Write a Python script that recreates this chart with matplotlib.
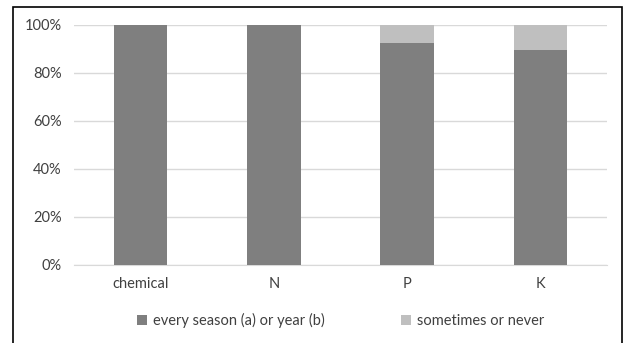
import matplotlib
matplotlib.use('Agg')
import matplotlib.pyplot as plt
from matplotlib.patches import Rectangle
from matplotlib.ticker import PercentFormatter
import numpy as np

plt.rcParams['font.family'] = ['Lato', 'DejaVu Sans']

categories = ['chemical', 'N', 'P', 'K']
regular = [100.0, 100.0, 92.3, 89.7]       # every season (a) or year (b)
sometimes = [0.0, 0.0, 7.7, 10.3]          # sometimes or never
labels = ['every season (a) or year (b)', 'sometimes or never']

dark = '#7f7f7f'
light = '#bfbfbf'
txt = '#404040'

fig = plt.figure(figsize=(6.24, 3.43), dpi=100)
ax = fig.add_axes([74/624, 1 - 265/343, 533/624, 240/343])

x = np.arange(len(categories))
ax.bar(x, regular, width=0.4, color=dark, label=labels[0], zorder=3)
ax.bar(x, sometimes, width=0.4, bottom=regular, color=light, label=labels[1], zorder=3)

ax.set_xlim(-0.5, len(categories) - 0.5)
ax.set_ylim(0, 100)
ax.set_yticks(np.arange(0, 101, 20))
ax.yaxis.set_major_formatter(PercentFormatter(decimals=0))
ax.set_xticks(x)
ax.set_xticklabels(categories)
ax.grid(axis='y', color='#d9d9d9', linewidth=1, zorder=0)
ax.tick_params(length=0, colors=txt, labelsize=10.5)
ax.tick_params(axis='x', pad=9)
ax.tick_params(axis='y', pad=9)
for s in ['top', 'right', 'left']:
    ax.spines[s].set_visible(False)
ax.spines['bottom'].set_color('#d9d9d9')

ax.legend(loc='center', bbox_to_anchor=(0.5, -0.23), ncol=2, frameon=False,
          handlelength=0.7, handleheight=0.7, columnspacing=5.2, fontsize=10.5,
          labelcolor=txt, handletextpad=0.4)

# frame around the chart
fig.patches.append(Rectangle((13/624, -0.1), 609/624, 1.1 - 7/343,
                             transform=fig.transFigure, fill=False,
                             edgecolor='black', linewidth=1.2))

fig.savefig('out.png', dpi=100)
